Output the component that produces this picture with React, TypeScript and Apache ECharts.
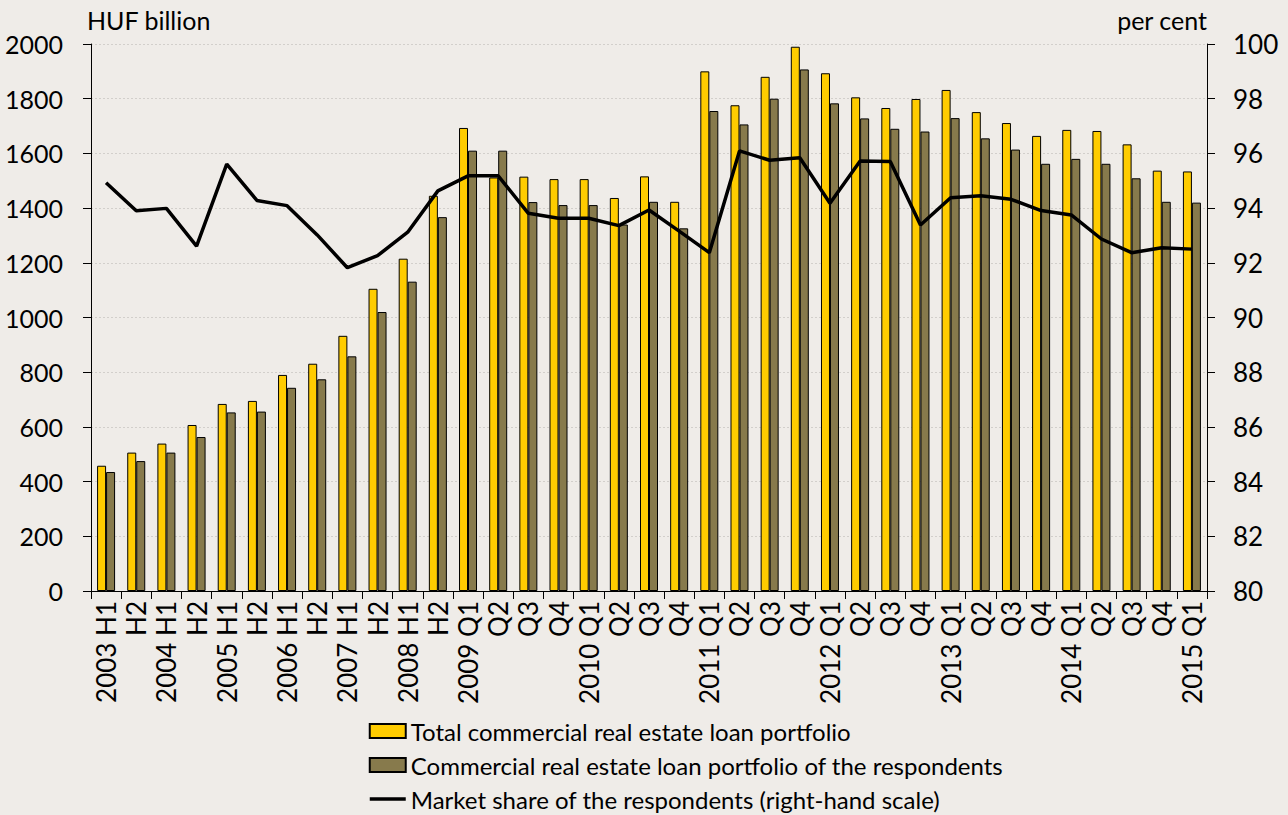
import React, { useEffect, useRef } from "react";
import * as echarts from "echarts";

const categories = [
  "2003 H1", "H2", "2004 H1", "H2", "2005 H1", "H2", "2006 H1", "H2",
  "2007 H1", "H2", "2008 H1", "H2", "2009 Q1", "Q2", "Q3", "Q4",
  "2010 Q1", "Q2", "Q3", "Q4", "2011 Q1", "Q2", "Q3", "Q4",
  "2012 Q1", "Q2", "Q3", "Q4", "2013 Q1", "Q2", "Q3", "Q4",
  "2014 Q1", "Q2", "Q3", "Q4", "2015 Q1",
];

const totalPortfolio = [
  458, 506, 539, 607, 684, 695, 790, 831, 933, 1105,
  1215, 1445, 1693, 1512, 1515, 1506, 1506, 1437, 1516, 1423,
  1900, 1776, 1880, 1990, 1893, 1805, 1766, 1799, 1832, 1751,
  1711, 1664, 1686, 1682, 1633, 1537, 1534,
];

const respondentsPortfolio = [
  435, 475, 506, 563, 653, 656, 743, 774, 858, 1020,
  1131, 1367, 1610, 1610, 1422, 1411, 1411, 1340, 1423, 1326,
  1755, 1706, 1800, 1907, 1783, 1728, 1690, 1680, 1729, 1655,
  1614, 1562, 1580, 1562, 1509, 1423, 1420,
];

const marketShare = [
  94.93, 93.9, 93.99, 92.61, 95.61, 94.28, 94.09, 93.02, 91.82, 92.26,
  93.12, 94.63, 95.18, 95.18, 93.81, 93.63, 93.63, 93.36, 93.93, 93.16,
  92.37, 96.09, 95.75, 95.84, 94.18, 95.72, 95.7, 93.38, 94.38, 94.45,
  94.32, 93.91, 93.75, 92.87, 92.37, 92.55, 92.5,
];

const seriesNames = [
  "Total commercial real estate loan portfolio",
  "Commercial real estate loan portfolio of the respondents",
  "Market share of the respondents (right-hand scale)",
];

const FONT = "Lato";
const BG = "#EFECE8";

export default function App() {
  const ref = useRef<HTMLDivElement>(null);

  useEffect(() => {
    if (!ref.current) return;
    const chart = echarts.init(ref.current, undefined, { renderer: "svg" });
    chart.setOption({
      animation: false,
      backgroundColor: BG,
      textStyle: { fontFamily: FONT, color: "#000" },
      grid: { left: 91, right: 81, top: 44, bottom: 224, containLabel: false },
      legend: {
        orient: "vertical",
        left: 368,
        top: 719,
        itemWidth: 36,
        itemHeight: 14,
        itemGap: 10,
        padding: 0,
        textStyle: { fontFamily: FONT, fontSize: 24, color: "#000", lineHeight: 24 },
        data: [
          { name: seriesNames[0], icon: "rect" },
          { name: seriesNames[1], icon: "rect" },
          {
            name: seriesNames[2],
            itemStyle: { opacity: 0 },
            lineStyle: { width: 3.5, color: "#000" },
          },
        ],
      },
      xAxis: {
        type: "category",
        data: categories,
        boundaryGap: true,
        axisLine: { lineStyle: { color: "#000", width: 1 } },
        axisTick: { show: true, length: 8, lineStyle: { color: "#000" } },
        axisLabel: {
          interval: 0,
          rotate: 90,
          margin: 10,
          fontFamily: FONT,
          fontSize: 26,
          color: "#000",
        },
      },
      yAxis: [
        {
          type: "value",
          min: 0,
          max: 2000,
          interval: 200,
          name: "HUF billion",
          nameLocation: "end",
          nameGap: 12,
          nameTextStyle: {
            fontFamily: FONT,
            fontSize: 25,
            color: "#000",
            align: "left",
            verticalAlign: "bottom",
            padding: [0, 0, 0, -4],
          },
          axisLine: { show: true, lineStyle: { color: "#000" } },
          axisTick: { show: true, length: 8, lineStyle: { color: "#000" } },
          axisLabel: {
            fontFamily: FONT,
            fontSize: 25,
            color: "#000",
            margin: 28,
            formatter: (v: number) => String(v),
          },
          splitLine: { show: true, lineStyle: { color: "#D2CFCB", type: [2, 2], width: 1 } },
        },
        {
          type: "value",
          min: 80,
          max: 100,
          interval: 2,
          position: "right",
          name: "per cent",
          nameLocation: "end",
          nameGap: 12,
          nameTextStyle: {
            fontFamily: FONT,
            fontSize: 25,
            color: "#000",
            align: "right",
            verticalAlign: "bottom",
          },
          axisLine: { show: true, lineStyle: { color: "#000" } },
          axisTick: { show: true, length: 8, lineStyle: { color: "#000" } },
          axisLabel: {
            fontFamily: FONT,
            fontSize: 26,
            color: "#000",
            margin: 26,
            formatter: (v: number) => String(v),
          },
          splitLine: { show: false },
        },
      ],
      series: [
        {
          name: seriesNames[0],
          type: "bar",
          yAxisIndex: 0,
          data: totalPortfolio,
          barWidth: 9,
          barGap: "0%",
          itemStyle: { color: "#FFCC00", borderColor: "#000", borderWidth: 1 },
        },
        {
          name: seriesNames[1],
          type: "bar",
          yAxisIndex: 0,
          data: respondentsPortfolio,
          barWidth: 9,
          barGap: "0%",
          itemStyle: { color: "#877A4C", borderColor: "#000", borderWidth: 1 },
        },
        {
          name: seriesNames[2],
          type: "line",
          yAxisIndex: 1,
          data: marketShare,
          symbol: "none",
          showSymbol: false,
          z: 5,
          lineStyle: { color: "#000", width: 3.5 },
          itemStyle: { color: "#000" },
        },
      ],
    });
    return () => chart.dispose();
  }, []);

  return (
    <div
      ref={ref}
      style={{ position: "absolute", left: 0, top: 0, width: 1288, height: 815, background: BG }}
    />
  );
}
